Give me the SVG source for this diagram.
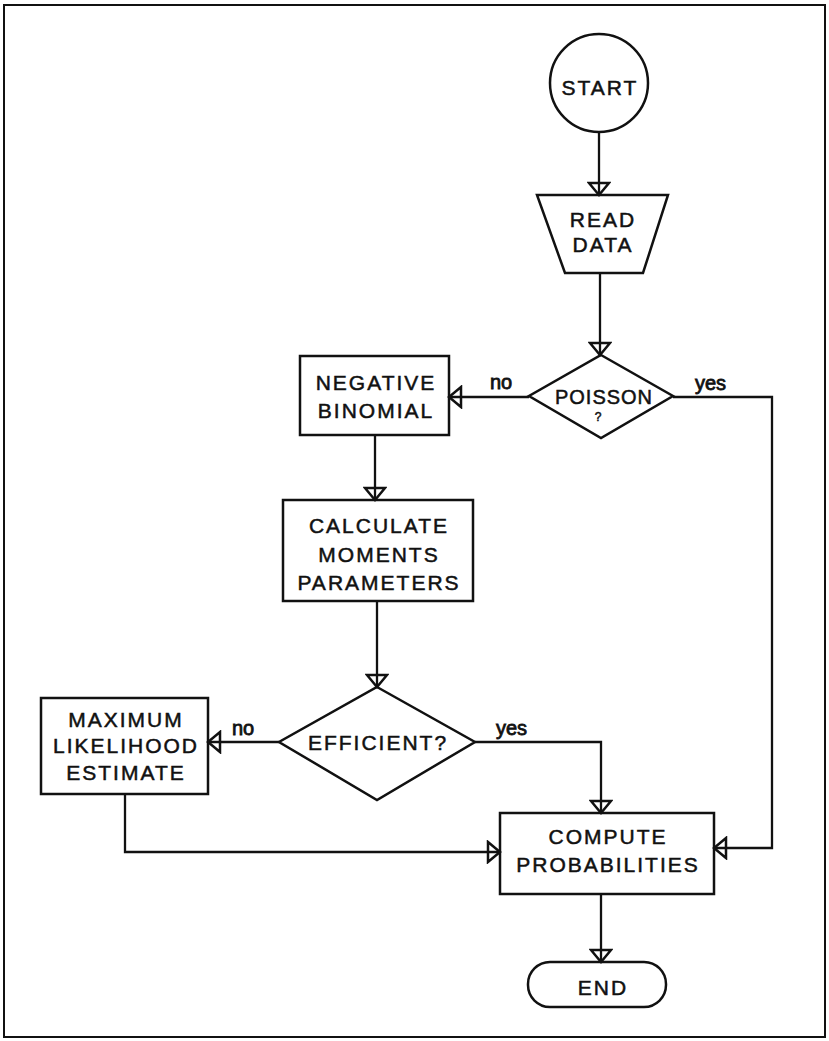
<svg xmlns="http://www.w3.org/2000/svg" width="829" height="1041" viewBox="0 0 829 1041">
<style>
.s{fill:none;stroke:#111;stroke-width:2.5;stroke-linejoin:miter}
.c{fill:none;stroke:#111;stroke-width:2.3}
.t{font-family:"Liberation Sans",Arial,sans-serif;font-size:21px;letter-spacing:2px;fill:#111;stroke:#111;stroke-width:0.5;text-anchor:middle}
.l{font-family:"Liberation Sans",Arial,sans-serif;font-size:20px;fill:#111;stroke:#111;stroke-width:0.8}
</style>
<defs>
<marker id="ah" viewBox="0 -12 16 24" refX="14" refY="0" markerWidth="16" markerHeight="24" markerUnits="userSpaceOnUse" orient="auto">
<path d="M2,-10 L14,0 L2,10 Z" fill="none" stroke="#111" stroke-width="2.5"/>
</marker>
</defs>
<rect x="4" y="5" width="821" height="1032" fill="none" stroke="#111" stroke-width="2"/>
<g id="connectors">
<path class="c" d="M599,133 V195" marker-end="url(#ah)"/>
<path class="c" d="M600,273 V355" marker-end="url(#ah)"/>
<path class="c" d="M529,397 H449" marker-end="url(#ah)"/>
<path class="c" d="M673,397 H772 V848 H714" marker-end="url(#ah)"/>
<path class="c" d="M375,435 V500" marker-end="url(#ah)"/>
<path class="c" d="M377,601 V687" marker-end="url(#ah)"/>
<path class="c" d="M279,742 H208" marker-end="url(#ah)"/>
<path class="c" d="M475,742 H601 V813" marker-end="url(#ah)"/>
<path class="c" d="M125,794 V852 H500" marker-end="url(#ah)"/>
<path class="c" d="M601,894 V962" marker-end="url(#ah)"/>
<text class="l" x="490" y="389">no</text>
<text class="l" x="695" y="390">yes</text>
<text class="l" x="232" y="735">no</text>
<text class="l" x="496" y="735">yes</text>
</g>
<g id="start">
<circle class="s" cx="599" cy="83" r="49"/>
<text class="t" x="600" y="95">START</text>
</g>
<g id="read-data">
<polygon class="s" points="537,195 668,195 643,273 565,273"/>
<text class="t" x="603" y="227">READ</text>
<text class="t" x="603" y="252">DATA</text>
</g>
<g id="poisson">
<polygon class="s" points="601,355 673,396 601,438 529,396"/>
<text class="t" x="604" y="404" style="font-size:20px;letter-spacing:1px">POISSON</text>
<text class="t" x="598" y="421" style="font-size:12px;letter-spacing:0">?</text>
</g>
<g id="negative-binomial">
<rect class="s" x="300" y="356" width="149" height="79"/>
<text class="t" x="376" y="390">NEGATIVE</text>
<text class="t" x="376" y="418">BINOMIAL</text>
</g>
<g id="calculate">
<rect class="s" x="283" y="500" width="190" height="101"/>
<text class="t" x="379" y="533">CALCULATE</text>
<text class="t" x="379" y="562">MOMENTS</text>
<text class="t" x="379" y="590">PARAMETERS</text>
</g>
<g id="efficient">
<polygon class="s" points="377,687 475,742 377,800 279,742"/>
<text class="t" x="378" y="750">EFFICIENT?</text>
</g>
<g id="maximum-likelihood">
<rect class="s" x="41" y="698" width="167" height="96"/>
<text class="t" x="126" y="727">MAXIMUM</text>
<text class="t" x="126" y="753">LIKELIHOOD</text>
<text class="t" x="126" y="780">ESTIMATE</text>
</g>
<g id="compute">
<rect class="s" x="500" y="813" width="214" height="81"/>
<text class="t" x="608" y="844">COMPUTE</text>
<text class="t" x="608" y="872">PROBABILITIES</text>
</g>
<g id="end">
<rect class="s" x="528" y="962" width="138" height="45" rx="22" ry="22"/>
<text class="t" x="603" y="995">END</text>
</g>
</svg>
